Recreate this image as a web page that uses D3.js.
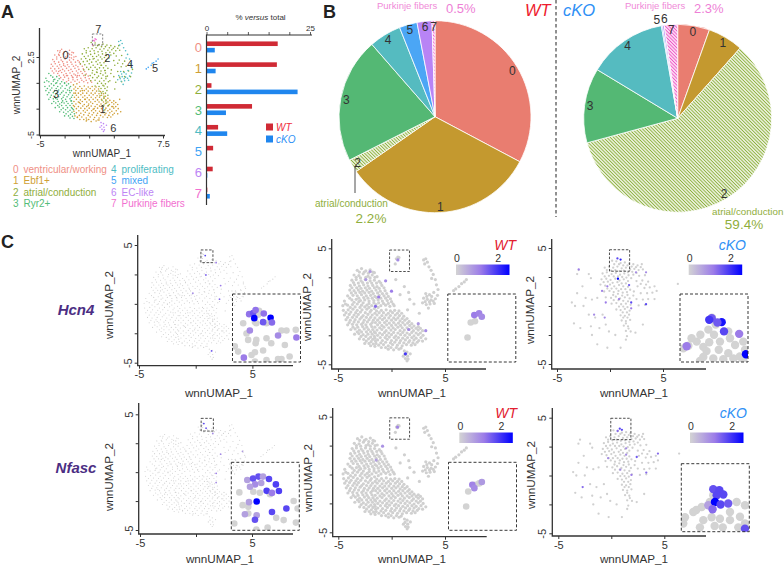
<!DOCTYPE html>
<html>
<head>
<meta charset="utf-8">
<script src="https://cdn.jsdelivr.net/npm/d3@7"></script>
<style>
  html, body { margin: 0; padding: 0; background: #fff; }
  svg { display: block; }
  text { font-family: "Liberation Sans", Arial, sans-serif; }
</style>
</head>
<body>
<svg id="figure" width="784" height="568"></svg>
<script>
// cluster names and colours
const clusterIds = ['0', '1', '2', '3', '4', '5', '6', '7']
const clusterNames = ['ventricular/working', 'Ebf1+', 'atrial/conduction', 'Ryr2+', 'proliferating', 'mixed', 'EC-like', 'Purkinje fibers']
const clusterColors = ['#ef8f85', '#cf9f35', '#8fae3c', '#55bd78', '#4fbcc4', '#3fa4f5', '#bd85f5', '#f26fd0']

// % versus total
const barWt = [17.2, 17, 1.2, 11, 2.8, 1.6, 1.5, 0.2]
const barKo = [2, 2.2, 22, 4.7, 5, 0, 0.2, 0.8]

// % of cells per cluster
const pieWt = [32.7, 32.5, 2.2, 21, 5.4, 3, 2.5, 0.5]
const pieKo = [5.5, 6.1, 59.4, 12.9, 13.6, 0.2, 0.3, 2.3]

// umap cells, estimated from the panels
const cells0 = [[-3.2,3.1],[-2.8,3.25],[-2.4,3.05],[-2,3.15],[-1.6,2.9],[-3.5,2.7],[-3.05,2.65],[-2.65,2.8],[-2.2,2.6],[-1.8,2.7],[-1.35,2.55],[-3.7,2.25],[-3.3,2.3],[-2.85,2.2],[-2.45,2.3],[-2,2.2],[-1.6,2.25],[-1.15,2.15],[-3.85,1.8],[-3.45,1.85],[-3,1.75],[-2.6,1.85],[-2.2,1.75],[-1.75,1.8],[-1.35,1.7],[-0.9,1.8],[-3.9,1.4],[-3.5,1.35],[-3.1,1.4],[-2.7,1.3],[-2.3,1.4],[-1.85,1.3],[-1.45,1.4],[-1.05,1.3],[-0.6,1.35],[-3.6,0.95],[-3.2,0.9],[-2.8,1],[-2.35,0.9],[-1.95,0.95],[-1.55,0.85],[-1.15,0.95],[-0.7,0.9],[-0.3,0.85],[-2.9,0.5],[-2.5,0.55],[-2.1,0.45],[-1.65,0.5],[-1.25,0.55],[-0.85,0.45],[-0.4,0.5],[0,0.4],[-2.3,0.1],[-1.85,0.05],[-1.45,0.15],[-1,0.05],[-0.55,0.1],[-0.15,0],[0.25,0.05],
  [-3,2.95],[-2.55,2.95],[-2.15,2.85],[-1.75,2.95],[-3.3,2.5],[-2.9,2.45],[-2.4,2.5],[-2,2.45],[-1.55,2.5],[-3.55,2.05],[-3.1,2],[-2.7,2.05],[-2.25,2],[-1.85,2],[-1.4,2],[-1,2],[-3.7,1.6],[-3.25,1.6],[-2.85,1.55],[-2.45,1.6],[-2.05,1.55],[-1.6,1.6],[-1.15,1.55],[-0.7,1.6],[-3.75,1.15],[-3.35,1.15],[-2.95,1.2],[-2.5,1.15],[-2.1,1.2],[-1.7,1.1],[-1.3,1.15],[-0.85,1.1],[-0.45,1.1],[-3.05,0.7],[-2.6,0.75],[-2.2,0.7],[-1.8,0.7],[-1.4,0.75],[-1,0.7],[-0.55,0.7],[-0.1,0.65],[-2.65,0.3],[-2.1,0.25],[-1.65,0.3],[-1.2,0.3],[-0.75,0.25],[-0.3,0.25],[0.15,0.2]]
const cells1 = [[-0.95,-0.35],[-0.5,-0.3],[-0.1,-0.4],[0.3,-0.35],[0.7,-0.4],[-1.35,-0.75],[-0.9,-0.8],[-0.5,-0.75],[-0.1,-0.8],[0.35,-0.75],[0.75,-0.8],[1.15,-0.85],[-1.3,-1.2],[-0.85,-1.15],[-0.45,-1.25],[0,-1.2],[0.4,-1.15],[0.8,-1.25],[1.25,-1.2],[1.65,-1.3],[-1.3,-1.6],[-0.9,-1.65],[-0.45,-1.6],[0,-1.65],[0.4,-1.6],[0.85,-1.65],[1.25,-1.6],[1.7,-1.65],[2.1,-1.7],[2.5,-1.75],[-1.35,-2.05],[-0.9,-2],[-0.5,-2.1],[-0.05,-2.05],[0.35,-2],[0.8,-2.1],[1.2,-2.05],[1.65,-2],[2.05,-2.1],[2.5,-2.05],[2.9,-2.1],[-1.3,-2.5],[-0.85,-2.45],[-0.45,-2.5],[0,-2.45],[0.4,-2.55],[0.85,-2.45],[1.25,-2.5],[1.7,-2.45],[2.1,-2.55],[2.5,-2.45],[2.95,-2.5],[3.2,-2.8],[-1.3,-2.9],[-0.85,-2.95],[-0.4,-2.85],[0,-2.95],[0.45,-2.9],[0.85,-2.95],[1.3,-2.9],[1.7,-2.95],[2.1,-2.9],[2.55,-2.95],[2.9,-3],[-1.2,-3.35],[-0.75,-3.3],[-0.3,-3.4],[0.1,-3.3],[0.55,-3.35],[1,-3.4],[1.4,-3.3],[1.85,-3.35],[2.2,-3.3],[-0.3,-3.7],[0.2,-3.75],[0.7,-3.7],
  [-0.75,-0.55],[-0.3,-0.6],[0.1,-0.55],[0.55,-0.6],[0.95,-0.6],[-1.1,-1],[-0.65,-1],[-0.25,-1],[0.2,-1],[0.6,-1],[1,-1.05],[1.45,-1.05],[-1.1,-1.4],[-0.65,-1.4],[-0.2,-1.45],[0.2,-1.4],[0.65,-1.45],[1.05,-1.4],[1.5,-1.45],[1.9,-1.5],[-1.1,-1.85],[-0.7,-1.8],[-0.25,-1.85],[0.15,-1.85],[0.6,-1.8],[1,-1.85],[1.45,-1.85],[1.9,-1.85],[2.3,-1.9],[2.7,-1.9],[-1.1,-2.3],[-0.65,-2.25],[-0.25,-2.3],[0.2,-2.25],[0.6,-2.3],[1.05,-2.25],[1.45,-2.3],[1.9,-2.25],[2.3,-2.3],[2.7,-2.3],[-1.05,-2.7],[-0.6,-2.7],[-0.2,-2.65],[0.25,-2.7],[0.65,-2.7],[1.05,-2.75],[1.5,-2.7],[1.9,-2.7],[2.3,-2.75],[2.75,-2.7],[-1,-3.15],[-0.55,-3.1],[-0.1,-3.15],[0.3,-3.1],[0.75,-3.15],[1.15,-3.15],[1.6,-3.1],[2,-3.15],[2.4,-3.1],[-0.55,-3.55],[-0.05,-3.55],[0.45,-3.55],[0.9,-3.6],
  [-1.25,-0.1],[-1.6,-0.2],[-1.4,-0.4],[-1.15,-0.55],[-1.55,-0.6],[-1.55,-1],[-1.5,-1.4],[-1.55,-1.8],[-1.6,-2.2],[-1.5,-2.3],[-1.55,-2.75],[-1.45,-3.2],[-0.95,-3.55]]
const cells2 = [[0.2,3.9],[0.6,3.85],[1,3.7],[1.4,3.75],[1.8,3.65],[2.2,3.6],[2.6,3.5],[3,3.6],[-0.5,3.3],[-0.1,3.4],[0.3,3.3],[0.7,3.4],[1.1,3.25],[1.5,3.3],[1.9,3.15],[2.3,3.2],[2.7,3.1],[3.1,3.15],[-0.7,2.8],[-0.3,2.9],[0.15,2.75],[0.55,2.85],[0.95,2.7],[1.35,2.8],[1.75,2.65],[2.2,2.7],[2.75,2.6],[3.3,2.65],[-0.8,2.3],[-0.35,2.35],[0.05,2.25],[0.5,2.35],[0.9,2.2],[1.3,2.3],[1.7,2.15],[2.5,2.15],[3.05,2.2],[3.6,2.1],[-0.9,1.85],[-0.45,1.75],[0,1.85],[0.4,1.7],[0.85,1.8],[1.25,1.7],[1.7,1.65],[2.6,1.7],[3.25,1.55],[3.75,1.6],[4.2,1.7],[-0.55,1.25],[-0.05,1.3],[0.35,1.2],[0.8,1.3],[1.2,1.15],[1.6,1.2],[2.25,1.25],[2.9,1.1],[3.5,1.1],[4,1.15],[4.4,1.3],[-0.4,0.75],[0.1,0.7],[0.55,0.8],[0.95,0.65],[1.4,0.75],[1.85,0.65],[2.5,0.6],[3.1,0.55],[3.6,0.6],[4.2,0.6],[0.15,0.2],[0.6,0.25],[1.05,0.15],[1.5,0.2],[1.95,0.1],[2.7,0.05],[3.3,0.1],[0.6,-0.3],[1,-0.35],[1.4,-0.25],[1.85,-0.4],[1,-0.8],[1.4,-0.85],[1.8,-0.75],[1.1,-1.25],[1.5,-1.3],[1.9,-1.2],[1.3,-1.7],[1.7,-1.75],[1.5,-2.15],[1.95,-2.2],[1.6,-2.6],
  [0.4,3.6],[0.85,3.6],[1.25,3.5],[1.65,3.5],[2.05,3.4],[2.45,3.35],[2.9,3.35],[-0.3,3.1],[0.1,3.05],[0.5,3.1],[0.9,3],[1.3,3.05],[1.7,2.9],[2.1,2.95],[2.5,2.85],[-0.5,2.55],[-0.1,2.6],[0.35,2.55],[0.75,2.55],[1.15,2.5],[1.55,2.45],[2,2.4],[-0.6,2.05],[-0.2,2.1],[0.25,2],[0.7,2.05],[1.1,1.95],[1.5,1.95],[-0.25,1.5],[0.15,1.5],[0.6,1.5],[1.05,1.45],[1.45,1.45],[1.9,1.4],[3.4,1.85],[2.9,1.9],[0.3,0.95],[0.75,1.05],[1.15,0.9],[1.65,0.95],[2.2,0.9],[0.35,0.5],[0.8,0.5],[1.25,0.45],[1.7,0.4],[0.85,-0.05],[1.25,-0.05],[1.65,-0.1],[1.2,-0.55],[1.6,-0.55],[1.25,-1],[1.65,-1],[1.5,-1.5],[1.75,-1.95]]
const cells3 = [[-4.1,0.9],[-3.7,0.55],[-3.3,0.6],[-4.4,0.45],[-4.55,0.05],[-4.1,0.1],[-3.65,0.15],[-3.2,0.2],[-2.8,0.1],[-4.5,-0.35],[-4.05,-0.3],[-3.6,-0.25],[-3.2,-0.35],[-2.75,-0.3],[-2.3,-0.25],[-1.9,-0.35],[-4.4,-0.75],[-3.95,-0.7],[-3.5,-0.75],[-3.1,-0.7],[-2.65,-0.8],[-2.2,-0.7],[-1.8,-0.75],[-4.25,-1.15],[-3.85,-1.2],[-3.4,-1.15],[-2.95,-1.1],[-2.55,-1.2],[-2.1,-1.15],[-1.7,-1.2],[-4.1,-1.6],[-3.65,-1.55],[-3.25,-1.6],[-2.8,-1.55],[-2.4,-1.6],[-1.95,-1.55],[-3.8,-2],[-3.4,-1.95],[-3,-2.05],[-2.55,-1.95],[-2.15,-2],[-1.75,-2],[-3.45,-2.4],[-3.05,-2.35],[-2.65,-2.45],[-2.2,-2.4],[-1.8,-2.4],[-3,-2.8],[-2.6,-2.85],[-2.15,-2.8],[-1.75,-2.85],[-2.5,-3.2],[-2.1,-3.2],[-1.7,-3.25],
  [-3.9,0.7],[-3.5,0.35],[-3.05,0.4],[-4.3,0.2],[-3.85,-0.1],[-3.4,-0.05],[-2.95,-0.1],[-2.5,-0.05],[-2.1,-0.1],[-4.25,-0.55],[-3.8,-0.5],[-3.35,-0.55],[-2.9,-0.5],[-2.45,-0.55],[-2,-0.5],[-4.1,-0.95],[-3.65,-0.95],[-3.25,-0.9],[-2.8,-0.95],[-2.35,-0.95],[-1.95,-0.95],[-3.95,-1.4],[-3.5,-1.35],[-3.1,-1.35],[-2.65,-1.4],[-2.25,-1.35],[-1.8,-1.4],[-3.6,-1.8],[-3.15,-1.8],[-2.7,-1.75],[-2.3,-1.8],[-1.85,-1.75],[-3.2,-2.2],[-2.8,-2.2],[-2.35,-2.2],[-1.95,-2.2],[-2.85,-2.6],[-2.4,-2.6],[-1.95,-2.65],[-1.6,-2.6],[-2.35,-3],[-1.9,-3.05],[-1.5,-3],[-1.95,-3.4],[-1.55,-3.45]]
const cells4 = [[3,4],[3.2,4.1],[3.35,3.8],[3.1,3.65],[3.5,3.4],[3.7,3.1],[3.9,2.75],[3.75,2.4],[4.1,2.3],[4.2,1.85],[4.35,1.45],[3.95,1.2],[3.2,1.1],[3.55,1],[4.3,0.95],[3,0.7],[3.35,0.6],[3.7,0.55],[4.1,0.65],[2.9,0.3],[3.25,0.15],[3.6,0.2],[4,0.25],[3.45,-0.15],[3.3,0.85],[3.75,0.85],[3.15,0.4],[3.55,0.4],[3.9,0.45]]
const cells5 = [[5.8,1.35],[6,1.5],[6.3,1.7],[6.55,1.95],[6.8,2.1],[7,2.3]]
const cells6 = [[1.2,-3.85],[1.45,-3.95],[1.25,-4.15],[1.5,-4.3],[1.3,-4.5],[1.55,-4.55],[1.75,-4.1],[1.1,-4.3],[1.45,-4.7]]
const cells7 = [[0.45,4.1],[0.6,4.25],[0.7,4.2],[0.55,4.05],[0.35,3.65]]

// the few wild type cells that sit in the atrial area
const wtCells2 = [[1.7,0.6],[2.1,0.2],[1.2,1.7],[0.4,2.3],[0.8,1],[1.5,-0.3],[2.6,-0.6],[1.6,1.2]]
// the sparse cKO cells outside the atrial area
const koCells0 = [[-2.95,3.1],[-3.1,2.75],[-2,2.75],[-1.8,2.4],[-2.6,1.7],[-3.1,1.1],[-2.3,0.7],[-1.7,0.55],[-1.2,0.7]]
const koCells3 = [[-3.6,0.3],[-3.3,0],[-2.5,0],[-3.4,-1.5],[-2.8,-1.9],[-1.8,-1.75],[-2,-0.75],[-1.7,-2.5]]
const koCells1 = [[-1.4,-1],[-0.7,-0.75],[-1,-1.9],[-0.4,-1.6],[-1.2,-3.3],[-0.25,-3.6],[1,-3.6],[1.5,-2.9],[2.4,-2.3],[3.1,-1.6],[0.5,-2.5],[-0.1,-2.2]]
const koCells5 = [[6.4,1.9]]

// expressing cells [umap1, umap2, level]
const hcn4All = [[0.84,4.1,1.8],[1.8,3.5,1.2],[0.9,2.45,1.5],[2.2,1.55,1.2],[2.1,0.4,1.4],[-0.25,0.9,1],[1.4,-4,1.6]]
const hcn4Wt = [[0.6,4,1],[-2,3,0.8],[-2.4,2.3,0.8],[-0.55,2.2,1],[0,1.3,1.2],[-1.2,0.8,1.2],[-1.5,0,1.4],[2.5,-1.5,0.8],[1.6,-2,1],[3.2,-2.1,1],[1.3,-4.1,2]]
const hcn4Ko = [[0.7,4.1,1.8],[1,4,2.2],[-2.95,3.15,1.2],[0.75,2.35,2.6],[-0.25,1.7,1.2],[1.8,1.8,1.6],[2.45,2.9,1],[3.4,2.9,1],[-0.4,0.3,1.2],[0.85,0.6,1.2],[2,0.3,1.8],[3.4,0.15,1.8],[-0.5,-1,1],[-1.5,-0.75,1],[2,-0.2,1.2],[-0.75,1.3,1.1]]
const nfascAll = [[0.7,4.2,1.8],[0.9,3.8,1.6],[1.5,3.35,1],[2.2,1.55,1],[1.8,-0.1,1.2],[1.8,-0.9,1],[4.15,1.8,0.8]]
const nfascWt = [[0.55,4.1,1.1],[-0.85,2.45,0.9],[-1.45,1.25,0.7]]
const nfascKo = [[0.8,4.05,1.8],[1,3.95,1.8],[0.6,3.85,1.4],[4.4,1.9,1.4],[2.4,1.6,1.6],[1.4,2.35,1],[-0.3,1.5,1],[1.4,1.8,1],[1.9,0.05,1.2],[3.3,0.25,1.4],[0.85,0.5,1],[-2.7,-1,1.4]]

// cells seen in the dashed zoom boxes [percent across, percent down, level]
const hcn4AllZoom = [[37.7,30.5,0],[33,41,0],[15.7,43,0],[35,43,0],[50,43,0],[20.6,58,0],[35,67.5,0],[23,67.5,0],[34,72.4,0],[50,65,0],[79.4,53.7,0],[72,53.7,0],[93,52.7,0],[57,72.4,0],[77,75,0],[3.4,77,0],[8.3,84.7,0],[33,85.7,0],[28,89.7,0],[45,83,0],[84,92,0],[67,95.6,0],[50,97,0],[33,99.5,0],[72,95.6,0],[39,24.6,0],[24.5,29.6,1.3],[30.4,28,1.6],[34,23.6,1.3],[32,35.5,2.6],[46,28.6,1.3],[56,35,2.6],[45,41.4,1.6],[58,42,1.4],[25.5,53.7,1],[67,61,1],[94,64,1.2],[16.7,93.6,1.2]]
const hcn4WtZoom = [[33.7,42,0],[40,40,0],[29,64,0],[39,31,1.2],[46,28.5,1.1],[50,33.5,1]]
const hcn4KoZoom = [[47,35,0],[52.5,45,0],[41.7,52.4,0],[71,55,0],[17,65,0],[24.5,70,0],[12.3,76,0],[34.3,77.8,0],[39,84,0],[58.8,70,0],[73.5,65,0],[93,70,0],[81,75,0],[95.6,82,0],[57,82,0],[71,87,0],[34.3,92.6,0],[49,94.9,0],[63.7,95.9,0],[78.4,94.9,0],[93,97.5,0],[29.4,98.5,0],[4.9,80,0],[30,60,0],[50,60,0],[43,71,0],[88,92,0],[46.6,35.5,1.6],[43,38,2],[61.3,41.4,2.4],[55,42,1.6],[64.7,55,1.8],[87,58.6,1.2],[9.8,76.8,1.2],[97,88.7,2.6]]
const nfascAllZoom = [[11.8,44.3,0],[32.4,43.3,0],[42,44.8,0],[57,47,0],[16.7,63,0],[25,65.5,0],[91.7,57,0],[97.5,68,0],[25,75.4,0],[66,81.7,0],[77,85,0],[95,88.7,0],[4.4,90,0],[36.8,99,0],[53.4,96,0],[23.5,26,0.7],[32,24,1.7],[40,21,1.7],[46.6,21,0.7],[55.4,24.6,1.8],[35,32.5,1],[44,30.5,0.7],[27.5,36,0.7],[65.6,32.5,1.9],[52,42,1.9],[70,42.3,1.9],[59.8,45,1.2],[26,58.6,0.7],[20,76.5,0.7],[37.3,57.6,2.6],[59.8,73,1.8],[81,68,1.8],[37.3,78,0.7],[34.8,84.4,1.7]]
const nfascWtZoom = [[29,43,0],[26,65,0],[45,31,0],[39,33,0],[35,33,1.1],[38,38,1],[49,29,0.8]]
const nfascKoZoom = [[47,46.5,0],[42,56.4,0],[30,63.7,0],[17.6,71,0],[5.4,78.8,0],[22,68,0],[32.4,83,0],[44.6,78.8,0],[56.8,81,0],[71.6,71,0],[81.4,56.4,0],[93.6,61,0],[71.6,83,0],[86.3,78,0],[93.6,88,0],[49,91.5,0],[27.4,93.6,0],[2.9,88,0],[83.8,93.6,0],[61,93.6,0],[47,37.4,1.7],[56,38.9,1.8],[61.8,45.3,1.8],[52,46.3,1.8],[39.7,61,0.7],[49.5,56.2,2.6],[46,66.9,1.4],[57.8,60,1.8],[69,58.6,1.6],[93.6,95.5,1.7]]

const legendTicks = [0, 2]
const umapTicks = [-5, -2.5, 0, 2.5, 5]
const clusterLabelSpots = [[-2.39, 2.7], [1.37, -2.56], [1.84, 2.43], [-3.37, -1.1], [4.15, 1.8], [6.69, 1.47], [2.45, -4.34], [0.92, 5.18]]

const color = d3.scaleLinear().domain([0, 1.2, 2.6]).range(['#d3d3d3', '#9c7ce8', '#0000ff'])
const darkText = '#333'

const svg = d3.select('#figure')
const defs = svg.append('defs')

const addHatch = (id, stroke, angle, gap, width) => {
  defs.append('pattern')
    .attr('id', id)
    .attr('width', gap)
    .attr('height', gap)
    .attr('patternUnits', 'userSpaceOnUse')
    .attr('patternTransform', `rotate(${angle})`)
    .append('line')
    .attr('x1', 0)
    .attr('x2', gap)
    .attr('y1', gap / 2)
    .attr('y2', gap / 2)
    .attr('stroke', stroke)
    .attr('stroke-width', width)
}
addHatch('hatch2', '#8cb03c', 45, 2.4, 1.15)
addHatch('hatch7', '#ef55c6', 45, 2.4, 1.2)

const addText = (x, y, str, opts = {}) => svg.append('text')
  .attr('x', x)
  .attr('y', y)
  .attr('font-size', opts.size || 10)
  .attr('fill', opts.fill || darkText)
  .attr('text-anchor', opts.anchor || 'start')
  .attr('font-style', opts.italic ? 'italic' : null)
  .attr('font-weight', opts.bold ? 'bold' : null)
  .text(str)

// Panel letters
addText(1, 18, 'A', { size: 18, bold: true, fill: '#222' })
addText(323, 18, 'B', { size: 18, bold: true, fill: '#222' })
addText(1, 248, 'C', { size: 18, bold: true, fill: '#222' })

// umap axes shared by panel A and panel C
const drawAxes = (p) => {
  const x = d3.scaleLinear().domain(p.xDomain).range(p.xRange)
  const y = d3.scaleLinear().domain(p.yDomain).range(p.yRange)
  const g = svg.append('g').attr('class', 'axes')

  const xAxis = g.append('g')
    .attr('transform', `translate(0,${p.bottom})`)
    .call(d3.axisBottom(x).tickValues(p.xTicks).tickSize(3).tickPadding(2)
      .tickFormat((d) => (p.xLabels.includes(d) ? d : '')))
  const yAxis = g.append('g')
    .attr('transform', `translate(${p.left},0)`)
    .call(d3.axisLeft(y).tickValues(p.yTicks).tickSize(3).tickPadding(2)
      .tickFormat((d) => (p.yLabels.includes(d) ? d : '')))
  xAxis.select('.domain').remove()
  yAxis.select('.domain').remove()

  xAxis.selectAll('line').attr('stroke', darkText).attr('stroke-width', 1)
  yAxis.selectAll('line').attr('stroke', darkText).attr('stroke-width', 1)
  xAxis.selectAll('text').attr('font-size', p.tickSize).attr('fill', darkText).attr('font-family', null)
  // y tick labels read sideways
  yAxis.selectAll('text')
    .attr('font-size', p.tickSize)
    .attr('fill', darkText)
    .attr('font-family', null)
    .attr('text-anchor', 'middle')
    .attr('dy', 0)
    .attr('x', 0)
    .attr('y', 0)
    .attr('transform', 'translate(-6,0) rotate(-90)')

  g.append('path')
    .attr('d', `M${p.left},${p.top}V${p.bottom}H${p.right}`)
    .attr('fill', 'none')
    .attr('stroke', darkText)
    .attr('stroke-width', 1.3)

  addText(p.xTitle[0], p.xTitle[1], 'wnnUMAP_1', { size: p.titleSize, anchor: 'middle' })
  svg.append('text')
    .attr('transform', `translate(${p.yTitle[0]},${p.yTitle[1]}) rotate(-90)`)
    .attr('font-size', p.titleSize)
    .attr('fill', darkText)
    .attr('text-anchor', 'middle')
    .text('wnnUMAP_2')

  return { x, y }
}

// Panel A: umap by cluster
const { x: ax, y: ay } = drawAxes({
  xDomain: [-5, 7.5], xRange: [40, 163],
  yDomain: [-5, 2.5], yRange: [134.5, 57],
  left: 39.5, top: 28, bottom: 135.5, right: 165,
  xTicks: [-5, -2.5, 0, 2.5, 5, 7.5], xLabels: [-5, 7.5],
  yTicks: [-5, -2.5, 0, 2.5], yLabels: [-5, 2.5],
  tickSize: 9, titleSize: 10, xTitle: [102, 157], yTitle: [20, 85]
})

const clusterCells = [
  cells0.concat(koCells0),
  cells1.concat(koCells1),
  cells2.concat(wtCells2),
  cells3.concat(koCells3),
  cells4,
  cells5.concat(koCells5),
  cells6,
  cells7
]

clusterCells.forEach((cells, i) => {
  svg.append('g')
    .selectAll('circle')
    .data(cells)
    .join('circle')
    .attr('cx', (d) => ax(d[0]))
    .attr('cy', (d) => ay(d[1]))
    .attr('r', 0.8)
    .attr('fill', clusterColors[i])
})

svg.append('rect')
  .attr('x', ax(0.32))
  .attr('y', ay(4.73))
  .attr('width', ax(1.37) - ax(0.32))
  .attr('height', ay(3.66) - ay(4.73))
  .attr('fill', 'none')
  .attr('stroke', darkText)
  .attr('stroke-width', 0.6)
  .attr('stroke-dasharray', '2,1.5')

clusterLabelSpots.forEach((spot, i) => {
  addText(ax(spot[0]), ay(spot[1]) + 4, clusterIds[i], { size: 11, anchor: 'middle' })
})

// cluster legend under the umap
clusterIds.forEach((id, i) => {
  const col = i < 4 ? 13 : 111
  const row = 173 + (i % 4) * 11.4
  addText(col, row, id, { fill: clusterColors[i] })
  addText(col + 10.5, row, clusterNames[i], { fill: clusterColors[i] })
})

// Panel A: bars
const bx = d3.scaleLinear().domain([0, 25]).range([206.5, 310])
const by = d3.scaleBand().domain(clusterIds).range([36.5, 203.5])
const barH = 4.6

const barG = svg.append('g')
barG.selectAll('.wt')
  .data(barWt)
  .join('rect')
  .attr('class', 'wt')
  .attr('x', bx(0))
  .attr('y', (d, i) => by(clusterIds[i]) + by.bandwidth() / 2 - barH - 0.9)
  .attr('width', (d) => bx(d) - bx(0))
  .attr('height', barH)
  .attr('fill', '#d02a35')
barG.selectAll('.ko')
  .data(barKo)
  .join('rect')
  .attr('class', 'ko')
  .attr('x', bx(0))
  .attr('y', (d, i) => by(clusterIds[i]) + by.bandwidth() / 2 + 0.9)
  .attr('width', (d) => bx(d) - bx(0))
  .attr('height', barH)
  .attr('fill', '#1f86ee')

const topAxis = svg.append('g')
  .attr('transform', 'translate(0,35)')
  .call(d3.axisTop(bx).tickValues([0, 5, 10, 15, 20, 25]).tickSize(3).tickPadding(1)
    .tickFormat((d) => (d === 0 || d === 25 ? d : '')))
topAxis.select('.domain').attr('d', 'M206.5,0H312').attr('stroke', darkText).attr('stroke-width', 1.2)
topAxis.selectAll('line').attr('stroke', darkText).attr('stroke-width', 0.8)
topAxis.selectAll('text').attr('font-size', 8).attr('fill', darkText).attr('font-family', null)

svg.append('line')
  .attr('x1', 206.5).attr('x2', 206.5)
  .attr('y1', 34.5).attr('y2', 205)
  .attr('stroke', darkText).attr('stroke-width', 1.2)

const axisTitle = addText(260.5, 20, '% ', { size: 8, anchor: 'middle' })
axisTitle.append('tspan').attr('font-style', 'italic').text('versus')
axisTitle.append('tspan').text(' total')

clusterIds.forEach((id, i) => {
  addText(202, by(id) + by.bandwidth() / 2 + 5, id, { size: 13, anchor: 'end', fill: clusterColors[i] })
})

const barLegend = [['WT', '#d02a35', '#ef2b3d', 127], ['cKO', '#1f86ee', '#2f90f5', 139]]
barLegend.forEach(([name, box, txt, yy]) => {
  svg.append('rect').attr('x', 266).attr('y', yy - 3.5).attr('width', 7).attr('height', 7).attr('fill', box)
  addText(276, yy + 3.5, name, { size: 10, italic: true, fill: txt })
})

// Panel B: pies
const pieLayout = d3.pie().value((d) => d).sort(null)
const fills = clusterColors.map((c, i) => {
  if (i === 2) return 'url(#hatch2)'
  if (i === 7) return 'url(#hatch7)'
  return ['#e97d70', '#c4992f', '', '#54b874', '#55bbc0', '#4ba6f5', '#b884f5'][i]
})

const drawPie = (values, cx, cy, radius, outerLabels) => {
  const arc = d3.arc().innerRadius(0).outerRadius(radius)
  const g = svg.append('g').attr('transform', `translate(${cx},${cy})`)
  const slices = pieLayout(values)

  g.selectAll('path')
    .data(slices)
    .join('path')
    .attr('d', arc)
    .attr('fill', (d, i) => fills[i])
    .attr('stroke', '#fff')
    .attr('stroke-width', 0.8)

  g.selectAll('text')
    .data(slices)
    .join('text')
    .attr('transform', (d, i) => {
      const r = radius * (outerLabels.includes(i) ? 1.07 : 0.94)
      const mid = (d.startAngle + d.endAngle) / 2
      const nudge = outerLabels.includes(i) ? (i === 5 ? -0.04 : 0.02) : 0
      return `translate(${r * Math.sin(mid + nudge)},${-r * Math.cos(mid + nudge)})`
    })
    .attr('text-anchor', 'middle')
    .attr('dy', '0.36em')
    .attr('font-size', 12)
    .attr('fill', darkText)
    .text((d, i) => clusterIds[i])
}

drawPie(pieWt, 435, 116.7, 96, [])
drawPie(pieKo, 677.7, 118.3, 94, [5, 6])

svg.append('line')
  .attr('x1', 556).attr('x2', 556)
  .attr('y1', 0).attr('y2', 217)
  .attr('stroke', '#222').attr('stroke-width', 1)
  .attr('stroke-dasharray', '3.5,2.5')

svg.append('line')
  .attr('x1', 355).attr('x2', 355)
  .attr('y1', 166).attr('y2', 193)
  .attr('stroke', '#222').attr('stroke-width', 0.8)

addText(377, 9, clusterNames[7], { size: 9.5, fill: '#f08ad8' })
addText(446, 13, '0.5%', { size: 13, fill: '#ee7fd6' })
addText(625, 9, clusterNames[7], { size: 9.5, fill: '#f08ad8' })
addText(694, 13, '2.3%', { size: 13, fill: '#ee7fd6' })
addText(315, 207, clusterNames[2], { size: 10, fill: '#8fae3c' })
addText(371, 223, '2.2%', { size: 13.5, anchor: 'middle', fill: '#8fae3c' })
addText(712, 215, clusterNames[2], { size: 9.8, fill: '#8fae3c' })
addText(744, 229, '59.4%', { size: 13.5, anchor: 'middle', fill: '#8fae3c' })
addText(525, 16, 'WT', { size: 16.5, italic: true, fill: '#ee1c2e' })
addText(563, 16, 'cKO', { size: 16.5, italic: true, fill: '#2f90f5' })

// Panel C: feature plots
const addColorbar = (p) => {
  const id = `ramp${p.id}`
  const grad = defs.append('linearGradient').attr('id', id)
  grad.selectAll('stop')
    .data(d3.ticks(0, 2.6, 13))
    .join('stop')
    .attr('offset', (d) => d / 2.6)
    .attr('stop-color', (d) => color(d))
  const lx = d3.scaleLinear().domain([0, 2.6]).range([p.bar[0], p.bar[0] + 53.5])
  svg.append('rect')
    .attr('x', p.bar[0])
    .attr('y', p.bar[1])
    .attr('width', 53.5)
    .attr('height', 10.5)
    .attr('fill', `url(#${id})`)
  legendTicks.forEach((t) => {
    addText(lx(t) + 1, p.bar[1] - 3, t, { size: 10.5, anchor: 'middle' })
  })
  addText(p.tagRight, p.bar[1] - 15, p.tag, {
    size: 14,
    italic: true,
    anchor: 'end',
    fill: p.tag === 'WT' ? '#e2202f' : '#2f90f5'
  })
}

const drawFeature = (p) => {
  const { x, y } = drawAxes({
    xDomain: [-5, 5], xRange: p.xRange,
    yDomain: [-5, 5], yRange: p.yRange,
    left: p.left, top: p.top, bottom: p.bottom, right: p.right,
    xTicks: [-5, 0, 5], xLabels: [-5, 5],
    yTicks: umapTicks, yLabels: [-5, 5],
    tickSize: 11, titleSize: 11.7, xTitle: p.xTitle, yTitle: p.yTitle
  })

  svg.append('g')
    .selectAll('circle')
    .data(p.cells)
    .join('circle')
    .attr('cx', (d) => x(d[0]))
    .attr('cy', (d) => y(d[1]))
    .attr('r', p.r)
    .attr('fill', '#d0d0d0')

  svg.append('g')
    .selectAll('circle')
    .data(p.hits)
    .join('circle')
    .attr('cx', (d) => x(d[0]))
    .attr('cy', (d) => y(d[1]))
    .attr('r', Math.max(p.r, 0.9))
    .attr('fill', (d) => color(d[2]))

  svg.append('rect')
    .attr('x', x(p.box[0]))
    .attr('y', y(p.box[3]))
    .attr('width', x(p.box[1]) - x(p.box[0]))
    .attr('height', y(p.box[2]) - y(p.box[3]))
    .attr('fill', 'none')
    .attr('stroke', '#222')
    .attr('stroke-width', 0.8)
    .attr('stroke-dasharray', '2.5,1.6')

  // zoomed view of the dashed box
  const ix = d3.scaleLinear().domain([0, 100]).range([p.inset[0], p.inset[0] + 68])
  const iy = d3.scaleLinear().domain([0, 100]).range([p.inset[1], p.inset[1] + 68])
  const clipId = `clip${p.id}`
  defs.append('clipPath').attr('id', clipId)
    .append('rect')
    .attr('x', p.inset[0]).attr('y', p.inset[1])
    .attr('width', 68).attr('height', 68)
  svg.append('g')
    .attr('clip-path', `url(#${clipId})`)
    .selectAll('circle')
    .data(p.zoomCells)
    .join('circle')
    .attr('cx', (d) => ix(d[0]))
    .attr('cy', (d) => iy(d[1]))
    .attr('r', p.insetR)
    .attr('fill', (d) => color(d[2]))
  svg.append('rect')
    .attr('x', p.inset[0]).attr('y', p.inset[1])
    .attr('width', 68).attr('height', 68)
    .attr('fill', 'none')
    .attr('stroke', '#222')
    .attr('stroke-width', 0.9)
    .attr('stroke-dasharray', '3,2')

  if (p.tag) addColorbar(p)
}

const wtCells = cells0.concat(cells1, cells3, cells4, cells5, cells6, cells7, wtCells2)
const koCells = cells2.concat(koCells0, koCells1, koCells3, koCells5)
const allCells = wtCells.concat(koCells)

const panelsC = [
  { id: 'a', cells: allCells, hits: hcn4All, zoomCells: hcn4AllZoom, r: 0.55, insetR: 3.3,
    xRange: [139, 252.4], yRange: [362.7, 245], left: 137.7, top: 235, bottom: 365.7, right: 293,
    xTitle: [219, 397], yTitle: [113, 305], box: [0.46, 1.52, 3.5, 4.58], inset: [232.5, 294] },
  { id: 'b', cells: wtCells, hits: hcn4Wt, zoomCells: hcn4WtZoom, r: 1.6, insetR: 3.3, tag: 'WT', tagRight: 516, bar: [456, 264.5],
    xRange: [338, 445], yRange: [364.3, 248.3], left: 331.7, top: 239, bottom: 369, right: 486,
    xTitle: [412, 397], yTitle: [311, 307], box: [-0.18, 1.68, 3, 4.85], inset: [447.8, 294] },
  { id: 'c', cells: koCells, hits: hcn4Ko, zoomCells: hcn4KoZoom, r: 1.15, insetR: 4.2, tag: 'cKO', tagRight: 746, bar: [688.7, 264.5],
    xRange: [557, 663], yRange: [364, 248], left: 551.7, top: 239, bottom: 369, right: 706,
    xTitle: [634, 397], yTitle: [534, 310], box: [-0.05, 1.85, 3, 4.85], inset: [680, 294] },
  { id: 'd', cells: allCells, hits: nfascAll, zoomCells: nfascAllZoom, r: 0.55, insetR: 3.3,
    xRange: [140, 252], yRange: [530, 414.3], left: 138.7, top: 403, bottom: 534, right: 293,
    xTitle: [220, 563], yTitle: [113, 477], box: [0.46, 1.55, 3.55, 4.65], inset: [231.3, 462.3] },
  { id: 'e', cells: wtCells, hits: nfascWt, zoomCells: nfascWtZoom, r: 1.6, insetR: 3.3, tag: 'WT', tagRight: 517, bar: [459.3, 432.5],
    xRange: [338.3, 445], yRange: [532.3, 416.7], left: 332.7, top: 408, bottom: 536.7, right: 486.7,
    xTitle: [412, 563], yTitle: [312, 478], box: [-0.18, 1.68, 3.05, 4.9], inset: [448.5, 462.3] },
  { id: 'f', cells: koCells, hits: nfascKo, zoomCells: nfascKoZoom, r: 1.15, insetR: 4.2, tag: 'cKO', tagRight: 747, bar: [690, 432.5],
    xRange: [558.3, 664.3], yRange: [533.3, 417.7], left: 552.3, top: 408, bottom: 536, right: 706,
    xTitle: [634, 563], yTitle: [535, 475], box: [-0.05, 1.85, 3.1, 4.95], inset: [681.3, 463.7] }
]
panelsC.forEach(drawFeature)

addText(76, 315, 'Hcn4', { size: 15, bold: true, italic: true, anchor: 'middle', fill: '#4b2e83' })
addText(76, 473, 'Nfasc', { size: 15, bold: true, italic: true, anchor: 'middle', fill: '#4b2e83' })
</script>
</body>
</html>
